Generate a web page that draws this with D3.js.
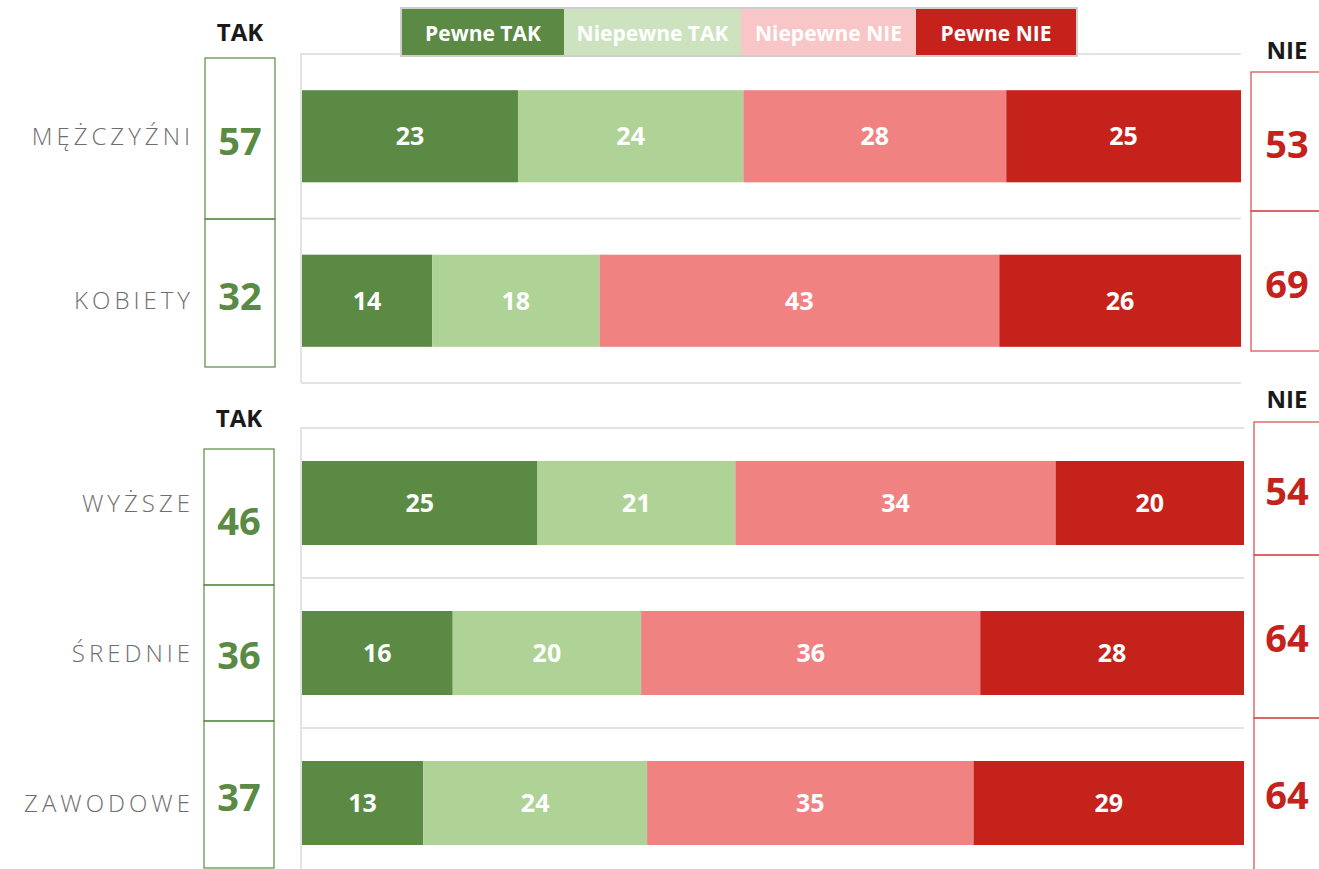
<!DOCTYPE html>
<html>
<head>
<meta charset="utf-8">
<script src="https://cdn.jsdelivr.net/npm/d3@7"></script>
<style>
  body { margin: 0; background: #fff; }
  svg { display: block; font-family: "Open Sans", sans-serif; }
</style>
</head>
<body>
<svg id="canvas" width="1319" height="869"></svg>
<script>
'use strict';

/* series and categories */
const series = ['Pewne TAK', 'Niepewne TAK', 'Niepewne NIE', 'Pewne NIE'];
const groupsTop = ['MĘŻCZYŹNI', 'KOBIETY'];
const groupsBottom = ['WYŻSZE', 'ŚREDNIE', 'ZAWODOWE'];

/* values, one per category (top panel first, then bottom panel) */
const pewneTak    = [23, 14, 25, 16, 13];
const niepewneTak = [24, 18, 21, 20, 24];
const niepewneNie = [28, 43, 34, 36, 35];
const pewneNie    = [25, 26, 20, 28, 29];

/* totals shown in the side boxes */
const takTotals = [57, 32, 46, 36, 37];
const nieTotals = [53, 69, 54, 64, 64];

const colors = ['#5a8a44', '#afd396', '#f08282', '#c5221c'];
const legendColors = ['#5a8a44', '#cde3c0', '#f8c6c6', '#c5221c'];

const svg = d3.select('#canvas');

/* build the rows used by d3.stack */
const allGroups = groupsTop.concat(groupsBottom);
const rows = allGroups.map((g, i) => ({
  group: g,
  'Pewne TAK': pewneTak[i],
  'Niepewne TAK': niepewneTak[i],
  'Niepewne NIE': niepewneNie[i],
  'Pewne NIE': pewneNie[i],
  tak: takTotals[i],
  nie: nieTotals[i]
}));

/* one panel = a 100% stacked bar chart with its own band scale */
function drawPanel(data, yRange, xRange, boxes){
  const g = svg.append('g');

  const x = d3.scaleLinear().domain([0, 1]).range(xRange);
  const y = d3.scaleBand()
    .domain(data.map(d => d.group))
    .range(yRange)
    .paddingInner(0.44)
    .paddingOuter(0.22);

  /* gridlines on band boundaries */
  const step = y.step();
  const gridY = d3.range(data.length + 1).map(i => yRange[0] + i * step);
  g.selectAll('line.grid')
    .data(gridY)
    .enter().append('line')
    .attr('class', 'grid')
    .attr('x1', xRange[0] - 1).attr('x2', xRange[1])
    .attr('y1', d => d).attr('y2', d => d)
    .attr('stroke', '#e3e3e3')
    .attr('stroke-width', 2);

  /* left axis line */
  g.append('line')
    .attr('x1', xRange[0] - 1).attr('x2', xRange[0] - 1)
    .attr('y1', yRange[0] - 1).attr('y2', Math.min(yRange[1], 869))
    .attr('stroke', '#e3e3e3')
    .attr('stroke-width', 2);

  const stacked = d3.stack().keys(series).offset(d3.stackOffsetExpand)(data);

  const layer = g.selectAll('g.layer')
    .data(stacked)
    .enter().append('g')
    .attr('class', 'layer')
    .attr('fill', (d, i) => colors[i]);

  layer.selectAll('rect')
    .data(d => d.map(p => ({p: p, key: d.key})))
    .enter().append('rect')
    .attr('x', d => x(d.p[0]))
    .attr('width', d => x(d.p[1]) - x(d.p[0]))
    .attr('y', d => y(d.p.data.group))
    .attr('height', y.bandwidth());

  layer.selectAll('text')
    .data(d => d.map(p => ({p: p, key: d.key})))
    .enter().append('text')
    .attr('x', d => (x(d.p[0]) + x(d.p[1])) / 2)
    .attr('y', d => y(d.p.data.group) + y.bandwidth() / 2)
    .attr('dy', '0.36em')
    .attr('text-anchor', 'middle')
    .attr('fill', '#fff')
    .attr('font-weight', 700)
    .attr('font-size', 25)
    .text(d => d.p.data[d.key]);

  /* category labels */
  g.selectAll('text.cat')
    .data(data)
    .enter().append('text')
    .attr('class', 'cat')
    .attr('x', 194)
    .attr('y', d => y(d.group) + y.bandwidth() / 2)
    .attr('dy', '0.36em')
    .attr('text-anchor', 'end')
    .attr('fill', '#6e6e6e')
    .attr('font-size', 24)
    .attr('font-weight', 300)
    .attr('letter-spacing', 4)
    .text(d => d.group);

  /* TAK boxes */
  const tb = boxes.tak;
  g.selectAll('rect.tak')
    .data(data)
    .enter().append('rect')
    .attr('x', tb.x).attr('width', 70)
    .attr('y', (d, i) => tb.y[i])
    .attr('height', (d, i) => tb.y[i + 1] - tb.y[i])
    .attr('fill', 'none')
    .attr('stroke', '#5a8a44')
    .attr('stroke-width', 1.2);
  g.selectAll('text.tak')
    .data(data)
    .enter().append('text')
    .attr('x', tb.x + 35)
    .attr('y', (d, i) => tb.ty[i])
    .attr('dy', '0.36em')
    .attr('text-anchor', 'middle')
    .attr('fill', '#5a8a44')
    .attr('font-weight', 700)
    .attr('font-size', 38)
    .text(d => d.tak);
  g.append('text')
    .attr('x', tb.x + 35).attr('y', tb.head)
    .attr('dy', '0.36em')
    .attr('text-anchor', 'middle')
    .attr('fill', '#1a1a1a')
    .attr('font-weight', 700)
    .attr('font-size', 24)
    .text('TAK');

  /* NIE boxes */
  const nb = boxes.nie;
  g.selectAll('rect.nie')
    .data(data)
    .enter().append('rect')
    .attr('x', nb.x).attr('width', 100)
    .attr('y', (d, i) => nb.y[i])
    .attr('height', (d, i) => nb.y[i + 1] - nb.y[i])
    .attr('fill', 'none')
    .attr('stroke', '#d44a4a')
    .attr('stroke-width', 1.2);
  g.selectAll('text.nie')
    .data(data)
    .enter().append('text')
    .attr('x', 1287)
    .attr('y', (d, i) => nb.ty[i])
    .attr('dy', '0.36em')
    .attr('text-anchor', 'middle')
    .attr('fill', '#c5221c')
    .attr('font-weight', 700)
    .attr('font-size', 38)
    .text(d => d.nie);
  g.append('text')
    .attr('x', 1287).attr('y', nb.head)
    .attr('dy', '0.36em')
    .attr('text-anchor', 'middle')
    .attr('fill', '#1a1a1a')
    .attr('font-weight', 700)
    .attr('font-size', 24)
    .text('NIE');
}

drawPanel(rows.slice(0, 2), [54, 383], [302, 1241], {
  tak: {x: 205, y: [58, 219, 367], ty: [141, 296], head: 32},
  nie: {x: 1251, y: [72, 211, 351], ty: [144, 284], head: 50}
});

drawPanel(rows.slice(2), [428, 878], [302, 1244], {
  tak: {x: 204, y: [449, 585, 721, 868], ty: [521, 655, 797], head: 418},
  nie: {x: 1254, y: [422, 555, 718, 880], ty: [491, 638, 795], head: 399}
});

/* legend */
const legendX = d3.scaleOrdinal()
  .domain(series)
  .range([402, 564, 741, 916]);
const legendW = [162, 177, 175, 160];
const legend = svg.append('g');
legend.append('rect')
  .attr('x', 401).attr('y', 8)
  .attr('width', 676).attr('height', 48)
  .attr('fill', 'none')
  .attr('stroke', '#cfcfcf')
  .attr('stroke-width', 2);
legend.selectAll('rect.item')
  .data(series)
  .enter().append('rect')
  .attr('class', 'item')
  .attr('x', d => legendX(d))
  .attr('y', 9)
  .attr('width', (d, i) => legendW[i])
  .attr('height', 46)
  .attr('fill', (d, i) => legendColors[i]);
legend.selectAll('text')
  .data(series)
  .enter().append('text')
  .attr('x', (d, i) => legendX(d) + legendW[i] / 2)
  .attr('y', 33)
  .attr('dy', '0.36em')
  .attr('text-anchor', 'middle')
  .attr('fill', '#fff')
  .attr('font-weight', 700)
  .attr('font-size', 21)
  .text(d => d);
</script>
</body>
</html>
